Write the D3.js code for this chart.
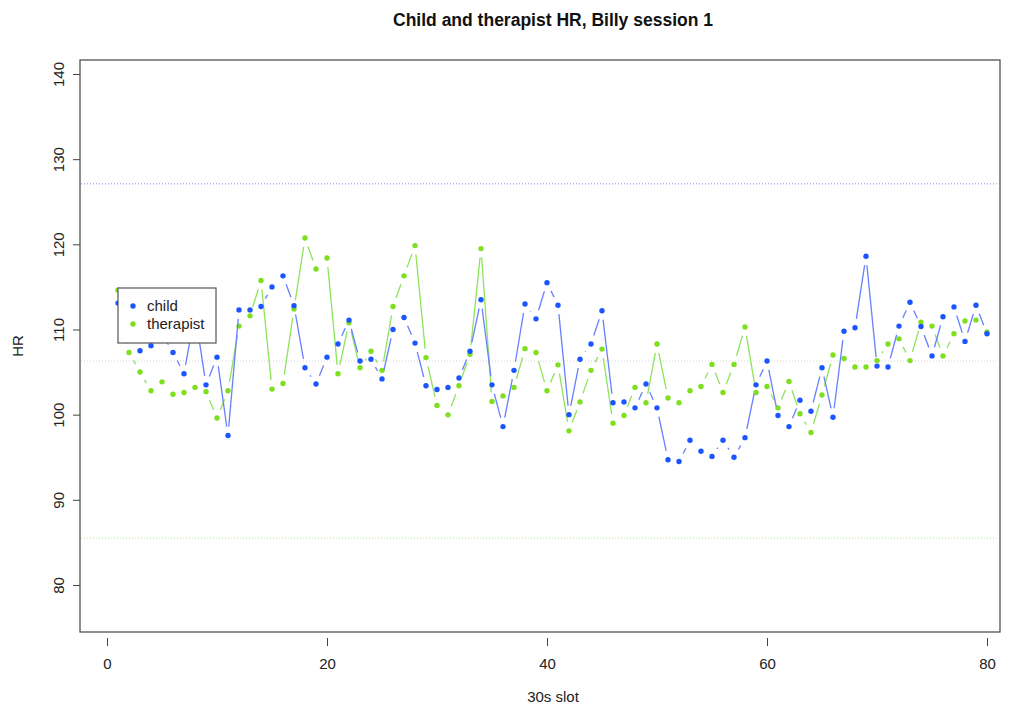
<!DOCTYPE html>
<html>
<head>
<meta charset="utf-8">
<script src="https://cdn.jsdelivr.net/npm/d3@7.9.0/dist/d3.min.js"></script>
<style>
  body { margin: 0; background: #fff; }
  svg { display: block; font-family: "Liberation Sans", Arial, sans-serif; }
</style>
</head>
<body>
<svg width="1013" height="707"></svg>
<script>
// HR per 30s slot
const childHR = [
  113.1, 110.0, 107.5, 108.1, 109.5, 107.3, 104.8, 112.0, 103.5, 106.75,
  97.55, 112.3, 112.3, 112.7, 115.0, 116.3, 112.8, 105.5, 103.6, 106.75,
  108.3, 111.1, 106.3, 106.5, 104.2, 110.0, 111.4, 108.4, 103.4, 102.95,
  103.2, 104.3, 107.45, 113.5, 103.5, 98.6, 105.2, 113.0, 111.25, 115.5,
  112.85, 100.0, 106.5, 108.3, 112.2, 101.4, 101.5, 100.8, 103.6, 100.8,
  94.7, 94.5, 97.0, 95.7, 95.1, 97.0, 95.0, 97.3, 103.5, 106.3,
  99.9, 98.6, 101.7, 100.4, 105.5, 99.7, 109.8, 110.2, 118.6, 105.7,
  105.6, 110.4, 113.2, 110.35, 106.9, 111.5, 112.65, 108.6, 112.85, 109.5
];
const therapistHR = [
  114.6, 107.3, 105.0, 102.8, 103.85, 102.4, 102.6, 103.2, 102.7, 99.6,
  102.8, 110.4, 111.6, 115.75, 103.0, 103.65, 112.4, 120.75, 117.1, 118.4,
  104.8, 110.8, 105.5, 107.45, 105.2, 112.7, 116.3, 119.85, 106.7, 101.07,
  99.98, 103.4, 107.1, 119.5, 101.55, 102.2, 103.2, 107.75, 107.3, 102.8,
  105.85, 98.1, 101.5, 105.2, 107.7, 99.0, 99.9, 103.2, 101.4, 108.3,
  101.95, 101.4, 102.8, 103.3, 105.9, 102.6, 105.9, 110.3, 102.6, 103.3,
  100.8, 103.9, 100.1, 97.9, 102.3, 107.0, 106.6, 105.6, 105.6, 106.35,
  108.3, 108.9, 106.35, 110.86, 110.4, 106.9, 109.5, 111.0, 111.1, 109.7
];
const slots = d3.range(1, childHR.length + 1);

// reference lines: upper, mean, lower
const refLines = [
  { value: 127.1, color: '#7d8cff' },
  { value: 106.3, color: '#d6d6d6' },
  { value: 85.5, color: '#a6e883' }
];

const xTicks = [0, 20, 40, 60, 80];
const yTicks = [80, 90, 100, 110, 120, 130, 140];

const plot = { left: 80, top: 60, right: 1000, bottom: 632 };

const x = d3.scaleLinear().domain([-2.4545, 81.1818]).range([plot.left, plot.right]);
const y = d3.scaleLinear().domain([74.48, 141.643]).range([plot.bottom, plot.top]);

const svg = d3.select('svg');
const font = '"Liberation Sans", Arial, sans-serif';

// title
svg.append('text')
  .attr('x', 553).attr('y', 26)
  .attr('text-anchor', 'middle')
  .attr('font-size', 17.5).attr('font-weight', 'bold')
  .attr('fill', '#111')
  .text('Child and therapist HR, Billy session 1');

// reference lines
refLines.forEach((r) => {
  svg.append('line')
    .attr('x1', plot.left + 1).attr('x2', plot.right - 1)
    .attr('y1', y(r.value)).attr('y2', y(r.value))
    .attr('stroke', r.color).attr('stroke-width', 1)
    .attr('stroke-dasharray', '1,2');
});

// type "b" series: segments with a gap around each point
const gap = 9;
function drawSeries(values, lineColor, dotColor) {
  const g = svg.append('g');
  for (let i = 0; i < values.length - 1; i++) {
    const x1 = x(slots[i]), y1 = y(values[i]);
    const x2 = x(slots[i + 1]), y2 = y(values[i + 1]);
    const len = Math.hypot(x2 - x1, y2 - y1);
    if (len <= 2 * gap) continue;
    const ux = (x2 - x1) / len, uy = (y2 - y1) / len;
    g.append('line')
      .attr('x1', x1 + ux * gap).attr('y1', y1 + uy * gap)
      .attr('x2', x2 - ux * gap).attr('y2', y2 - uy * gap)
      .attr('stroke', lineColor).attr('stroke-width', 1.3);
  }
  g.selectAll('circle')
    .data(values)
    .join('circle')
    .attr('cx', (d, i) => x(slots[i]))
    .attr('cy', (d) => y(d))
    .attr('r', 2.7)
    .attr('fill', dotColor);
}

drawSeries(therapistHR, '#8ee35c', '#7ddf1e');
drawSeries(childHR, '#6680ff', '#1a55ff');

// box
svg.append('rect')
  .attr('x', plot.left).attr('y', plot.top)
  .attr('width', plot.right - plot.left).attr('height', plot.bottom - plot.top)
  .attr('fill', 'none').attr('stroke', '#444').attr('stroke-width', 1.2);

// axes
const xAxis = d3.axisBottom(x).tickValues(xTicks).tickSize(8).tickPadding(12);
svg.append('g')
  .attr('transform', `translate(0,${plot.bottom + 6})`)
  .call(xAxis)
  .call((g) => g.select('.domain').remove())
  .call((g) => g.selectAll('line').attr('stroke', '#444'))
  .call((g) => g.selectAll('text').attr('font-size', 15).attr('fill', '#222')
    .attr('font-family', font));

const yAxis = d3.axisLeft(y).tickValues(yTicks).tickSize(7).tickPadding(0);
const yg = svg.append('g')
  .attr('transform', `translate(${plot.left},0)`)
  .call(yAxis)
  .call((g) => g.select('.domain').remove())
  .call((g) => g.selectAll('line').attr('stroke', '#444'));
yg.selectAll('text')
  .attr('font-size', 15).attr('fill', '#222')
  .attr('font-family', font)
  .attr('text-anchor', 'middle')
  .attr('x', null)
  .attr('transform', 'translate(-21,0) rotate(-90)')
  .attr('dy', '0.35em');

// axis titles
svg.append('text')
  .attr('x', 553).attr('y', 702)
  .attr('text-anchor', 'middle')
  .attr('font-size', 15).attr('fill', '#222')
  .text('30s slot');

svg.append('text')
  .attr('transform', 'translate(23,346) rotate(-90)')
  .attr('text-anchor', 'middle')
  .attr('font-size', 15).attr('fill', '#222')
  .text('HR');

// legend
const legendItems = [
  { label: 'child', color: '#1a55ff' },
  { label: 'therapist', color: '#7ddf1e' }
];
const lg = svg.append('g').attr('transform', 'translate(118,288)');
lg.append('rect')
  .attr('width', 98).attr('height', 55)
  .attr('fill', '#fff').attr('stroke', '#555').attr('stroke-width', 1.2);
legendItems.forEach((d, i) => {
  lg.append('circle')
    .attr('cx', 15).attr('cy', 18 + i * 18).attr('r', 2.7)
    .attr('fill', d.color);
  lg.append('text')
    .attr('x', 29).attr('y', 18 + i * 18).attr('dy', '0.35em')
    .attr('font-size', 15).attr('fill', '#222')
    .text(d.label);
});
</script>
</body>
</html>
